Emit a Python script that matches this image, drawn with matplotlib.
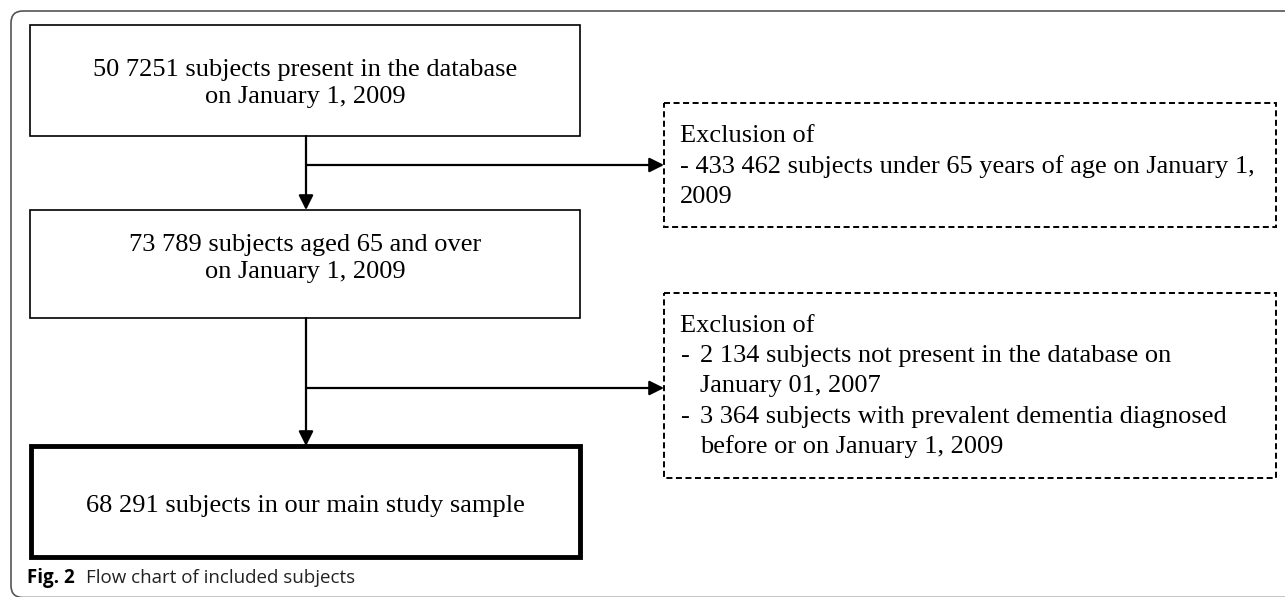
import matplotlib.pyplot as plt
from matplotlib.patches import Rectangle, FancyBboxPatch

# counts shown in the flow chart
n_database = "50 7251"
n_aged65 = "73 789"
n_under65 = "433 462"
n_not_present = "2 134"
n_dementia = "3 364"
n_sample = "68 291"

main_texts = [
    [f"{n_database} subjects present in the database", "on January 1, 2009"],
    [f"{n_aged65} subjects aged 65 and over", "on January 1, 2009"],
    [f"{n_sample} subjects in our main study sample"],
]
excl1_lines = ["Exclusion of",
               f"- {n_under65} subjects under 65 years of age on January 1,",
               "2009"]
excl2_head = "Exclusion of"
excl2_items = [
    ("-", f"{n_not_present} subjects not present in the database on"),
    ("", "January 01, 2007"),
    ("-", f"{n_dementia} subjects with prevalent dementia diagnosed"),
    ("", "before or on January 1, 2009"),
]

W, H = 1285, 597
fig = plt.figure(figsize=(W / 100, H / 100), dpi=100)
ax = fig.add_axes([0, 0, 1, 1])
ax.set_xlim(0, W)
ax.set_ylim(H, 0)
ax.axis("off")

serif = "Liberation Serif"
fs = 19

# outer frame with rounded corners (right and bottom run off the picture)
frame = FancyBboxPatch((11, 11), 1320, 586.5, boxstyle="round,pad=0,rounding_size=12",
                       fill=False, ec="#555555", lw=1.2)
ax.add_patch(frame)

# main boxes (x0, y0, x1, y1) and first baseline of their text
boxes = [(30, 25, 580, 136), (30, 210, 580, 318), (31, 446, 580, 557)]
widths = [1.2, 1.2, 3.5]
first_base = [76, 251, 512]
for (x0, y0, x1, y1), lw, yb, lines in zip(boxes, widths, first_base, main_texts):
    ax.add_patch(Rectangle((x0, y0), x1 - x0, y1 - y0, fill=False, ec="black",
                           lw=lw, joinstyle="miter"))
    for i, line in enumerate(lines):
        ax.text((x0 + x1) / 2, yb + 27 * i, line, ha="center", va="baseline",
                family=serif, fontsize=fs)

# dashed exclusion boxes
dboxes = [(664, 103, 1276, 227), (664, 293, 1276, 478)]
for x0, y0, x1, y1 in dboxes:
    ax.add_patch(Rectangle((x0, y0), x1 - x0, y1 - y0, fill=False, ec="black",
                           lw=1.4, ls=(0, (3.1, 1.8))))

for i, line in enumerate(excl1_lines):
    ax.text(680, 142 + i * 30.5, line, ha="left", va="baseline", family=serif, fontsize=fs)

ax.text(680, 332, excl2_head, ha="left", va="baseline", family=serif, fontsize=fs)
for i, (dash, line) in enumerate(excl2_items):
    y = 362 + i * 30.3
    if dash:
        ax.text(681, y, dash, ha="left", va="baseline", family=serif, fontsize=fs)
    ax.text(700, y, line, ha="left", va="baseline", family=serif, fontsize=fs)

# arrows
ap = dict(arrowstyle="-|>,head_length=0.8,head_width=0.4", color="black",
          lw=1.6, shrinkA=0, shrinkB=0, mutation_scale=11)
xv = 306
ax.annotate("", xy=(xv, 210), xytext=(xv, 136), arrowprops=ap)
ax.annotate("", xy=(xv, 446), xytext=(xv, 318), arrowprops=ap)
ax.annotate("", xy=(664, 165), xytext=(xv, 165), arrowprops=ap)
ax.annotate("", xy=(664, 388), xytext=(xv, 388), arrowprops=ap)

# caption
ax.text(27, 578, "Fig. 2", ha="left", va="center", family="Open Sans",
        fontweight="bold", fontsize=13.5)
ax.text(86, 578, "Flow chart of included subjects", ha="left", va="center",
        family="Open Sans", fontsize=13.5, color="#222222")

fig.savefig("out.png", dpi=100)
